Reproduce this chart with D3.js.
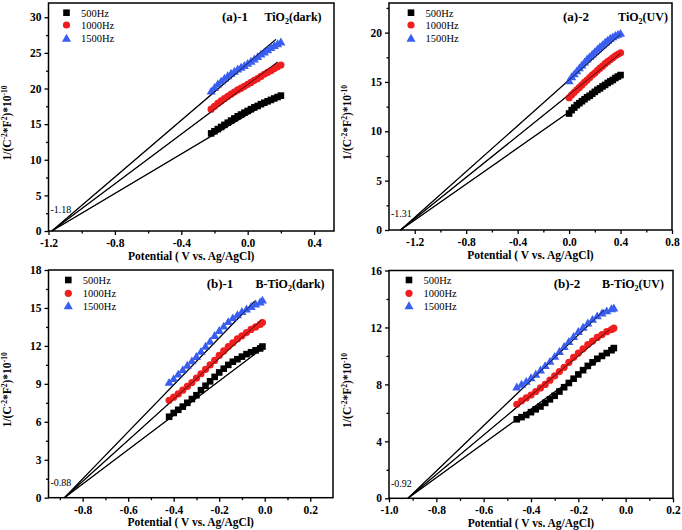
<!DOCTYPE html>
<html><head><meta charset="utf-8">
<script src="https://cdn.jsdelivr.net/npm/d3@7/dist/d3.min.js"></script>
<style>
html,body{margin:0;padding:0;background:#fff;}
svg{display:block;}
</style></head>
<body>
<svg id="chart" width="682" height="530"></svg>
<script>
// ---------------- DATA ----------------
const seriesNames = ["500Hz", "1000Hz", "1500Hz"];

// (a)-1 TiO2(dark)
const a1X = [-0.22,-0.20,-0.18,-0.16,-0.14,-0.12,-0.10,-0.08,-0.06,-0.04,-0.02,0.00,0.02,0.04,0.06,0.08,0.10,0.12,0.14,0.16,0.18,0.20];
const a1Y500  = [13.7,14.0,14.3,14.6,14.9,15.2,15.5,15.8,16.1,16.35,16.6,16.85,17.1,17.35,17.55,17.8,18.0,18.2,18.4,18.6,18.8,19.0];
const a1Y1000 = [17.1,17.5,17.9,18.25,18.6,18.9,19.2,19.5,19.8,20.05,20.3,20.6,20.85,21.15,21.4,21.7,22.0,22.25,22.5,22.8,23.05,23.3];
const a1Y1500 = [19.6,20.1,20.6,21.0,21.4,21.75,22.1,22.4,22.7,22.95,23.2,23.5,23.8,24.1,24.45,24.8,25.1,25.4,25.7,26.0,26.25,26.5];
const a1FitX = [[-1.18,0.19],[-1.18,0.18],[-1.18,0.17]];
const a1FitY = [[0,19.0],[0,23.7],[0,26.9]];

// (a)-2 TiO2(UV)
const a2X = [0.00,0.02,0.04,0.06,0.08,0.10,0.12,0.14,0.16,0.18,0.20,0.22,0.24,0.26,0.28,0.30,0.32,0.34,0.36,0.38,0.40];
const a2Y500  = [11.8,12.15,12.4,12.65,12.85,13.05,13.25,13.45,13.6,13.8,14.0,14.2,14.35,14.55,14.7,14.9,15.05,15.2,15.4,15.55,15.7];
const a2Y1000 = [13.4,13.7,13.95,14.2,14.45,14.7,14.95,15.2,15.45,15.7,15.9,16.15,16.4,16.6,16.85,17.05,17.25,17.45,17.65,17.8,17.95];
const a2Y1500 = [15.1,15.5,15.8,16.1,16.4,16.7,17.0,17.3,17.55,17.8,18.05,18.3,18.55,18.75,19.0,19.2,19.4,19.55,19.7,19.8,19.9];
const a2FitX = [[-1.31,0.40],[-1.31,0.40],[-1.31,0.40]];
const a2FitY = [[0,15.6],[0,17.9],[0,19.85]];

// (b)-1 B-TiO2(dark)
const b1X = [-0.42,-0.40,-0.38,-0.36,-0.34,-0.32,-0.30,-0.28,-0.26,-0.24,-0.22,-0.20,-0.18,-0.16,-0.14,-0.12,-0.10,-0.08,-0.06,-0.04,-0.02,-0.01];
const b1Y500  = [6.4,6.7,6.95,7.2,7.5,7.8,8.1,8.5,8.85,9.2,9.55,9.9,10.2,10.5,10.75,10.95,11.15,11.35,11.5,11.65,11.8,11.95];
const b1Y1000 = [7.7,7.95,8.2,8.5,8.8,9.1,9.45,9.8,10.15,10.5,10.85,11.25,11.6,11.95,12.25,12.55,12.8,13.05,13.3,13.5,13.7,13.85];
const b1Y1500 = [9.1,9.4,9.75,10.1,10.45,10.8,11.15,11.55,11.95,12.35,12.8,13.2,13.55,13.9,14.2,14.45,14.7,14.9,15.1,15.3,15.45,15.6];
const b1FitX = [[-0.88,-0.014],[-0.88,-0.014],[-0.88,-0.043]];
const b1FitY = [[0,11.75],[0,14.05],[0,15.55]];

// (b)-2 B-TiO2(UV)
const b2X = [-0.46,-0.44,-0.42,-0.40,-0.38,-0.36,-0.34,-0.32,-0.30,-0.28,-0.26,-0.24,-0.22,-0.20,-0.18,-0.16,-0.14,-0.12,-0.10,-0.08,-0.06,-0.05];
const b2Y500  = [5.55,5.7,5.85,6.05,6.25,6.45,6.7,6.95,7.2,7.5,7.8,8.1,8.4,8.7,9.0,9.3,9.55,9.8,10.0,10.2,10.4,10.55];
const b2Y1000 = [6.6,6.85,7.05,7.25,7.5,7.75,8.0,8.3,8.6,8.9,9.2,9.55,9.9,10.2,10.5,10.8,11.05,11.3,11.5,11.7,11.85,11.95];
const b2Y1500 = [7.8,8.0,8.2,8.45,8.7,9.0,9.3,9.6,9.95,10.3,10.65,11.0,11.35,11.7,12.0,12.3,12.55,12.8,13.0,13.15,13.3,13.35];
const b2FitX = [[-0.92,-0.048],[-0.92,-0.069],[-0.92,-0.09]];
const b2FitY = [[0,10.5],[0,11.83],[0,13.23]];

// tick values and labels
const a1XTicks = [-1.2,-0.8,-0.4,0.0,0.4];
const a1XLabels = ["-1.2","-0.8","-0.4","0.0","0.4"];
const a1YTicks = [0,5,10,15,20,25,30];
const a2XTicks = [-1.2,-0.8,-0.4,0.0,0.4,0.8];
const a2XLabels = ["-1.2","-0.8","-0.4","0.0","0.4","0.8"];
const a2YTicks = [0,5,10,15,20];
const b1XTicks = [-0.8,-0.6,-0.4,-0.2,0.0,0.2];
const b1XLabels = ["-0.8","-0.6","-0.4","-0.2","0.0","0.2"];
const b1YTicks = [0,3,6,9,12,15,18];
const b2XTicks = [-1.0,-0.8,-0.6,-0.4,-0.2,0.0,0.2];
const b2XLabels = ["-1.0","-0.8","-0.6","-0.4","-0.2","0.0","0.2"];
const b2YTicks = [0,4,8,12,16];

const panelTags = ["(a)-1","(a)-2","(b)-1","(b)-2"];
const sampleNames = [["TiO","2","(dark)"],["TiO","2","(UV)"],["B-TiO","2","(dark)"],["B-TiO","2","(UV)"]];
const interceptLabels = ["-1.18","-1.31","-0.88","-0.92"];

// ---------------- STYLE / LAYOUT ----------------
const colors = ["#000000", "#f01e1e", "#3a5ef0"];
const FONT = "'Liberation Serif','Times New Roman',serif";

const panels = [
  {box:[48.5,3,334,231], xd:[-1.2,0.52], yd:[0,32], xt:a1XTicks, xl:a1XLabels, yt:a1YTicks,
   X:a1X, Ys:[a1Y500,a1Y1000,a1Y1500], fx:a1FitX, fy:a1FitY,
   tagX:235, sampX:293, tagY:21, legX:66.5, legY:[12.7,25,38.5], intY:209},
  {box:[389,3,672,230], xd:[-1.4,0.8], yd:[0,23], xt:a2XTicks, xl:a2XLabels, yt:a2YTicks,
   X:a2X, Ys:[a2Y500,a2Y1000,a2Y1500], fx:a2FitX, fy:a2FitY,
   tagX:576, sampX:643, tagY:21, legX:411, legY:[12.7,25,38.5], intY:213},
  {box:[48.5,270,333,497.7], xd:[-0.95,0.3], yd:[0,18], xt:b1XTicks, xl:b1XLabels, yt:b1YTicks,
   X:b1X, Ys:[b1Y500,b1Y1000,b1Y1500], fx:b1FitX, fy:b1FitY,
   tagX:220, sampX:290, tagY:288, legX:68.3, legY:[280,293.3,306], intY:482},
  {box:[389,270.5,673,498.3], xd:[-1.0,0.2], yd:[0,16], xt:b2XTicks, xl:b2XLabels, yt:b2YTicks,
   X:b2X, Ys:[b2Y500,b2Y1000,b2Y1500], fx:b2FitX, fy:b2FitY,
   tagX:567, sampX:633, tagY:288, legX:409, legY:[280,293.3,306], intY:483}
];

const svg = d3.select("#chart");

function drawMarker(g, type, x, y, color) {
  if (type === 0) {
    g.append("rect").attr("x", x-3.3).attr("y", y-3.3).attr("width", 6.6).attr("height", 6.6).attr("fill", color);
  } else if (type === 1) {
    g.append("circle").attr("cx", x).attr("cy", y).attr("r", 3.6).attr("fill", color);
  } else {
    const s = d3.symbol().type(d3.symbolTriangle).size(36);
    g.append("path").attr("d", s()).attr("transform", `translate(${x},${y+0.6})`).attr("fill", color);
  }
}

panels.forEach((p, pi) => {
  const [L, T, R, B] = p.box;
  const x = d3.scaleLinear().domain(p.xd).range([L, R]);
  const y = d3.scaleLinear().domain(p.yd).range([B, T]);
  const g = svg.append("g");

  // minor ticks
  const xStep = p.xt[1] - p.xt[0];
  const xMinor = [];
  for (let i = 0; i < p.xt.length; i++) {
    const m = p.xt[i] + xStep/2;
    if (m < p.xd[1]) xMinor.push(m);
    const m2 = p.xt[i] - xStep/2;
    if (i === 0 && m2 > p.xd[0]) xMinor.push(m2);
  }
  const yStep = p.yt[1] - p.yt[0];
  const yMinor = p.yt.map(v => v + yStep/2).filter(v => v < p.yd[1]);

  const xMinAxis = g.append("g").attr("transform", `translate(0,${B})`)
    .call(d3.axisBottom(x).tickValues(xMinor).tickSize(2.5).tickFormat(""));
  const yMinAxis = g.append("g").attr("transform", `translate(${L},0)`)
    .call(d3.axisLeft(y).tickValues(yMinor).tickSize(2.5).tickFormat(""));

  const xAx = g.append("g").attr("transform", `translate(0,${B})`)
    .call(d3.axisBottom(x).tickValues(p.xt).tickSize(4).tickPadding(4)
      .tickFormat((d, i) => p.xl[i]));
  const yAx = g.append("g").attr("transform", `translate(${L},0)`)
    .call(d3.axisLeft(y).tickValues(p.yt).tickSize(4).tickPadding(3).tickFormat(d => String(d)));

  [xMinAxis, yMinAxis, xAx, yAx].forEach(a => {
    a.select(".domain").remove();
    a.selectAll("line").attr("stroke", "#000").attr("stroke-width", 1.3);
    a.selectAll("text").attr("font-family", FONT).attr("font-weight", "bold")
      .attr("font-size", "11.5px").attr("fill", "#000");
  });

  // frame
  g.append("rect").attr("x", L).attr("y", T).attr("width", R-L).attr("height", B-T)
    .attr("fill", "none").attr("stroke", "#000").attr("stroke-width", 1.5);

  // fit lines
  p.fx.forEach((fx, si) => {
    g.append("line")
      .attr("x1", x(fx[0])).attr("y1", y(p.fy[si][0]))
      .attr("x2", x(fx[1])).attr("y2", y(p.fy[si][1]))
      .attr("stroke", "#000").attr("stroke-width", 1.2);
  });

  // data markers
  p.Ys.forEach((ys, si) => {
    const mg = g.append("g");
    ys.forEach((v, i) => drawMarker(mg, si, x(p.X[i]), y(v), colors[si]));
  });

  // fit lines drawn again thinly over the markers
  p.fx.forEach((fx, si) => {
    g.append("line")
      .attr("x1", x(fx[0])).attr("y1", y(p.fy[si][0]))
      .attr("x2", x(fx[1])).attr("y2", y(p.fy[si][1]))
      .attr("stroke", "#000").attr("stroke-width", 0.9).attr("opacity", 0.7);
  });

  // legend
  seriesNames.forEach((nm, si) => {
    drawMarker(g, si, p.legX, p.legY[si], colors[si]);
    g.append("text").attr("x", p.legX + 14.5).attr("y", p.legY[si] + 3.8)
      .attr("font-family", FONT).attr("font-size", "10.5px").attr("fill", "#000").text(nm);
  });

  // panel tag and sample
  g.append("text").attr("x", p.tagX).attr("y", p.tagY).attr("text-anchor", "middle")
    .attr("font-family", FONT).attr("font-weight", "bold").attr("font-size", "13px").text(panelTags[pi]);
  const st = g.append("text").attr("x", p.sampX).attr("y", p.tagY).attr("text-anchor", "middle")
    .attr("font-family", FONT).attr("font-weight", "bold").attr("font-size", "12px");
  st.append("tspan").text(sampleNames[pi][0]);
  st.append("tspan").attr("dy", 3).attr("font-size", "8px").text(sampleNames[pi][1]);
  st.append("tspan").attr("dy", -3).text(sampleNames[pi][2]);

  // intercept label
  g.append("text").attr("x", L + 2).attr("y", p.intY + 3.5)
    .attr("font-family", FONT).attr("font-size", "10px").text(interceptLabels[pi]);

  // x title
  g.append("text").attr("x", (L + R)/2).attr("y", B + 28.5).attr("text-anchor", "middle")
    .attr("font-family", FONT).attr("font-weight", "bold").attr("font-size", "11.5px")
    .text("Potential ( V vs. Ag/AgCl)");

  // y title
  const yt = g.append("text")
    .attr("transform", `translate(${L - 38},${(T + B)/2 + 6}) rotate(-90)`)
    .attr("text-anchor", "middle")
    .attr("font-family", FONT).attr("font-weight", "bold").attr("font-size", "11.5px");
  yt.append("tspan").text("1/(C");
  yt.append("tspan").attr("dy", -4).attr("font-size", "7.5px").text("-2");
  yt.append("tspan").attr("dy", 4).text("*F");
  yt.append("tspan").attr("dy", -4).attr("font-size", "7.5px").text("2");
  yt.append("tspan").attr("dy", 4).text(")*10");
  yt.append("tspan").attr("dy", -4).attr("font-size", "7.5px").text("-10");
});
</script>
</body></html>
